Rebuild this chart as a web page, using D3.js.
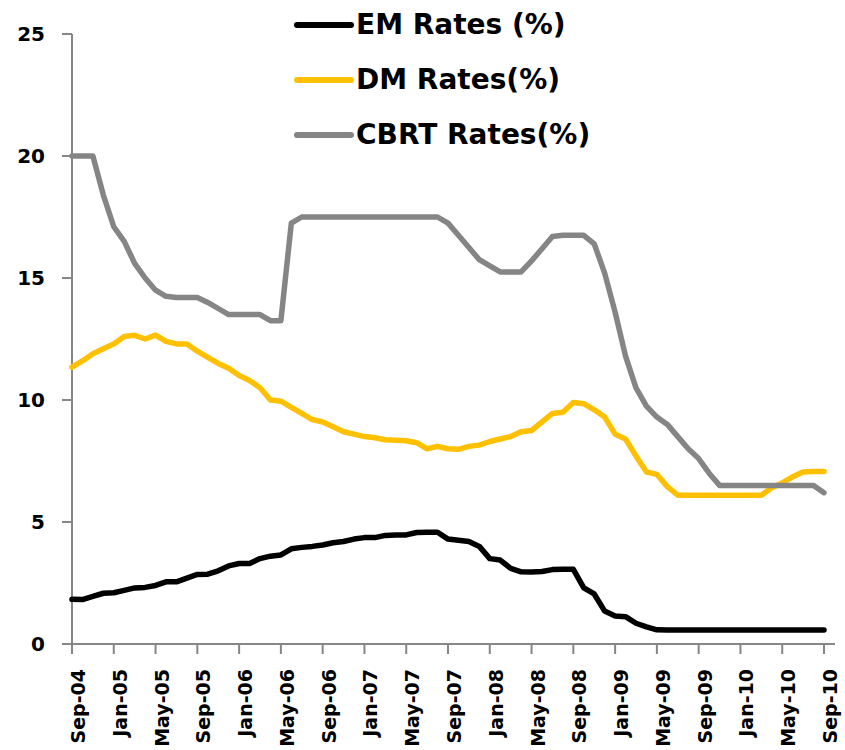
<!DOCTYPE html>
<html>
<head>
<meta charset="utf-8">
<script src="https://cdn.jsdelivr.net/npm/d3@7"></script>
<style>
  body { margin: 0; background: #fff; }
  svg { display: block; }
</style>
</head>
<body>
<div id="chart"></div>
<script>
"use strict";

var WIDTH = 845;
var HEIGHT = 750;

// Monthly, Sep-04 .. Sep-10
var months = [
    "Sep-04","Oct-04","Nov-04","Dec-04",
    "Jan-05","Feb-05","Mar-05","Apr-05","May-05","Jun-05","Jul-05","Aug-05","Sep-05","Oct-05","Nov-05","Dec-05",
    "Jan-06","Feb-06","Mar-06","Apr-06","May-06","Jun-06","Jul-06","Aug-06","Sep-06","Oct-06","Nov-06","Dec-06",
    "Jan-07","Feb-07","Mar-07","Apr-07","May-07","Jun-07","Jul-07","Aug-07","Sep-07","Oct-07","Nov-07","Dec-07",
    "Jan-08","Feb-08","Mar-08","Apr-08","May-08","Jun-08","Jul-08","Aug-08","Sep-08","Oct-08","Nov-08","Dec-08",
    "Jan-09","Feb-09","Mar-09","Apr-09","May-09","Jun-09","Jul-09","Aug-09","Sep-09","Oct-09","Nov-09","Dec-09",
    "Jan-10","Feb-10","Mar-10","Apr-10","May-10","Jun-10","Jul-10","Aug-10","Sep-10"
];

var emRates = [
    1.83, 1.82, 1.95, 2.08,
    2.10, 2.20, 2.30, 2.32, 2.40, 2.55, 2.55, 2.70, 2.85, 2.86, 3.00, 3.20,
    3.30, 3.30, 3.50, 3.60, 3.65, 3.90, 3.96, 4.00, 4.06, 4.15, 4.20, 4.30,
    4.36, 4.36, 4.45, 4.47, 4.47, 4.57, 4.58, 4.58, 4.30, 4.25, 4.20, 4.00,
    3.50, 3.44, 3.10, 2.96, 2.95, 2.97, 3.05, 3.06, 3.06, 2.30, 2.05, 1.35,
    1.15, 1.12, 0.85, 0.70, 0.58, 0.57, 0.57, 0.57, 0.57, 0.57, 0.57, 0.57,
    0.57, 0.57, 0.57, 0.57, 0.57, 0.57, 0.57, 0.57, 0.57
];

var dmRates = [
    11.35, 11.60, 11.90, 12.10,
    12.30, 12.60, 12.65, 12.50, 12.66, 12.40, 12.30, 12.30, 12.00, 11.75, 11.50, 11.30,
    11.00, 10.80, 10.50, 10.00, 9.95, 9.70, 9.45, 9.20, 9.10, 8.90, 8.70, 8.60,
    8.50, 8.45, 8.37, 8.35, 8.33, 8.25, 8.00, 8.10, 8.00, 7.98, 8.10, 8.15,
    8.30, 8.40, 8.50, 8.70, 8.75, 9.10, 9.45, 9.50, 9.90, 9.85, 9.60, 9.30,
    8.60, 8.40, 7.70, 7.05, 6.95, 6.45, 6.10, 6.10, 6.10, 6.10, 6.10, 6.10,
    6.10, 6.10, 6.10, 6.40, 6.60, 6.85, 7.05, 7.07, 7.07
];

var cbrtRates = [
    20.00, 20.00, 20.00, 18.40,
    17.10, 16.50, 15.60, 15.00, 14.50, 14.25, 14.20, 14.20, 14.20, 14.00, 13.75, 13.50,
    13.50, 13.50, 13.50, 13.25, 13.25, 17.25, 17.50, 17.50, 17.50, 17.50, 17.50, 17.50,
    17.50, 17.50, 17.50, 17.50, 17.50, 17.50, 17.50, 17.50, 17.25, 16.75, 16.25, 15.75,
    15.50, 15.25, 15.25, 15.25, 15.70, 16.20, 16.70, 16.75, 16.75, 16.75, 16.40, 15.20,
    13.60, 11.80, 10.50, 9.75, 9.30, 9.00, 8.50, 8.00, 7.60, 7.00, 6.50, 6.50,
    6.50, 6.50, 6.50, 6.50, 6.50, 6.50, 6.50, 6.50, 6.20
];

var seriesNames = ["EM Rates (%)", "DM Rates(%)", "CBRT Rates(%)"];
var seriesColors = ["#000000", "#FFC000", "#858585"];
var yTicks = [0, 5, 10, 15, 20, 25];
var LABEL_STEP = 4; // label every 4th month

var series = [emRates, dmRates, cbrtRates];

var svg = d3.select("#chart").append("svg")
    .attr("width", WIDTH)
    .attr("height", HEIGHT);

var scaleX = d3.scaleLinear().domain([0, months.length - 1]).range([72, 824]);
var scaleY = d3.scaleLinear().domain([0, 25]).range([644, 34]);

var AXIS_COLOR = "#868686";

// Y axis
svg.append("line")
    .attr("x1", scaleX(0)).attr("x2", scaleX(0))
    .attr("y1", scaleY(25)).attr("y2", scaleY(0))
    .style("stroke", AXIS_COLOR).style("stroke-width", 2);

yTicks.forEach(function (t) {
    svg.append("line")
        .attr("x1", scaleX(0) - 10).attr("x2", scaleX(0))
        .attr("y1", scaleY(t)).attr("y2", scaleY(t))
        .style("stroke", AXIS_COLOR).style("stroke-width", 2);
    svg.append("text")
        .text(t)
        .attr("x", 45)
        .attr("y", scaleY(t) + 7)
        .attr("text-anchor", "end")
        .style("font-family", "DejaVu Sans")
        .style("font-weight", "bold")
        .style("font-size", "20px")
        .style("fill", "#000");
});

// X axis
svg.append("line")
    .attr("x1", scaleX(0) - 10).attr("x2", scaleX(months.length - 1) + 11)
    .attr("y1", scaleY(0)).attr("y2", scaleY(0))
    .style("stroke", AXIS_COLOR).style("stroke-width", 2);

months.forEach(function (m, i) {
    if (i % LABEL_STEP != 0) {
        return;
    }
    var x = scaleX(i);
    svg.append("line")
        .attr("x1", x).attr("x2", x)
        .attr("y1", scaleY(0)).attr("y2", scaleY(0) + 10)
        .style("stroke", AXIS_COLOR).style("stroke-width", 2);
    svg.append("text")
        .text(m)
        .attr("transform", translate(x + 13, 669) + " rotate(-90)")
        .attr("text-anchor", "end")
        .style("font-family", "DejaVu Sans")
        .style("font-weight", "bold")
        .style("font-size", "19px")
        .style("fill", "#000");
});

// Lines
var pathGenerator = d3.line()
    .x(function (d, i) { return scaleX(i); })
    .y(function (d) { return scaleY(d); });

series.forEach(function (values, k) {
    svg.append("path")
        .attr("d", pathGenerator(values))
        .style("fill", "none")
        .style("stroke", seriesColors[k])
        .style("stroke-width", 5.5)
        .style("stroke-linejoin", "round")
        .style("stroke-linecap", "round");
});

// Legend
seriesNames.forEach(function (name, k) {
    var y = 25 + k * 55;
    svg.append("line")
        .attr("x1", 297).attr("x2", 351)
        .attr("y1", y).attr("y2", y)
        .style("stroke", seriesColors[k])
        .style("stroke-width", 6)
        .style("stroke-linecap", "round");
    svg.append("text")
        .text(name)
        .attr("x", 356)
        .attr("y", y + 9)
        .style("font-family", "DejaVu Sans")
        .style("font-weight", "bold")
        .style("font-size", "28px")
        .style("fill", "#000");
});

function translate(x, y) {
    return "translate(" + x + "," + y + ")";
}
</script>
</body>
</html>
